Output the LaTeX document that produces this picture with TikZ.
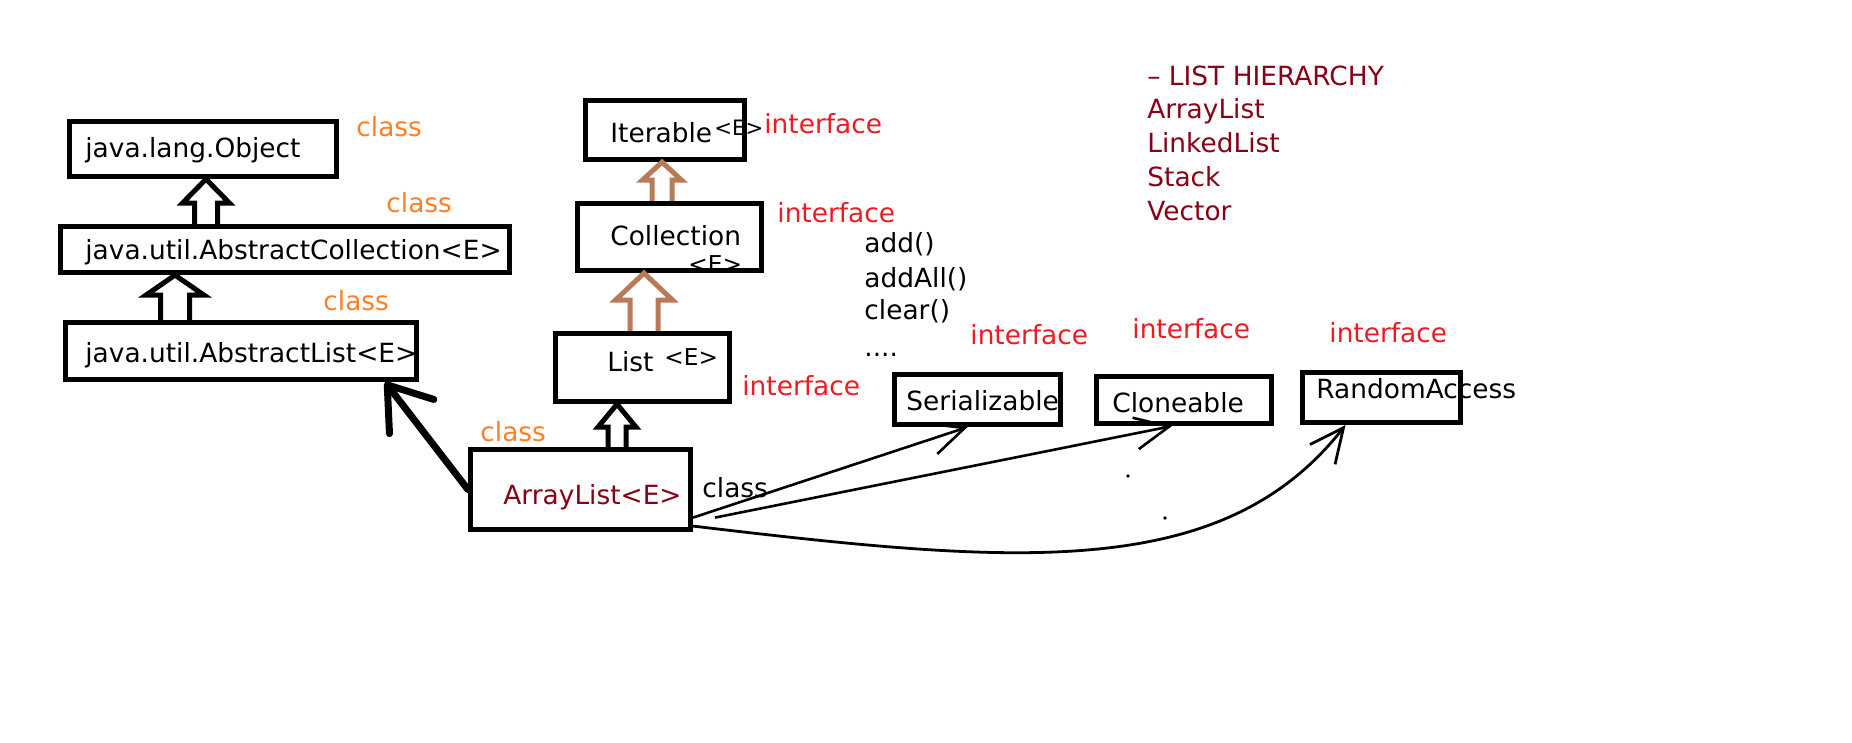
\documentclass[tikz,border=0pt]{standalone}
\usepackage{fontspec}
\setmainfont{DejaVu Sans}
\usepackage{xcolor}
\usepackage{tikz}
\usetikzlibrary{calc,positioning,arrows.meta}
\definecolor{PaintOrange}{RGB}{255,127,39}
\definecolor{PaintRed}{RGB}{237,28,36}
\definecolor{DeepMaroon}{RGB}{136,0,21}
\definecolor{ClayBrown}{RGB}{185,122,87}
\newcommand{\diagfont}{\fontsize{13.2}{16}\selectfont}
\newcommand{\genfont}{\fontsize{11.6}{14}\selectfont}
% hollow block arrow: colour, x, parent, child, head half, shaft half, head length
\newcommand{\inheritarrow}[7]{%
  \path (#2,0) coordinate (ax);
  \coordinate (tip) at (#3.south -| ax);
  \coordinate (base) at (#4.north -| ax);
  \draw[blockarrow, draw=#1] ($(base)+(-#6,0)$) -- ($(tip)+(-#6,#7)$) -- ($(tip)+(-#5,#7)$)
    -- (tip) -- ($(tip)+(#5,#7)$) -- ($(tip)+(#6,#7)$) -- ($(base)+(#6,0)$);
}

\begin{document}
\begin{tikzpicture}[x=0.5pt, y=-0.5pt,
    umlbox/.style={draw, line width=2.5pt, inner sep=0pt},
    txt/.style={anchor=base west, inner sep=0pt, font=\diagfont},
    gen/.style={anchor=base west, inner sep=0pt, font=\genfont},
    classtag/.style={txt, text=PaintOrange},
    ifacetag/.style={txt, text=PaintRed},
    blockarrow/.style={line width=2.5pt, line join=miter},
    realize/.style={line width=1.3pt, -{Straight Barb[length=17pt,width=16pt]}}]
    % Canvas
    \fill[white] (0,0) rectangle (1852,743);
    \useasboundingbox (0,0) rectangle (1852,743);

    % Box Texts (drawn first, borders go over them)
    \node[txt] (objtxt) at (85,158) {java.lang.Object};
    \node[txt] (acolltxt) at (85,260) {java.util.AbstractCollection<E>};
    \node[txt] (alisttxt) at (85,362) {java.util.AbstractList<E>};
    \node[txt] (itertxt) at (610,143) {Iterable};
    \node[gen, font=\fontsize{10.6}{12}\selectfont] (itergen) at (714,136) {<E>};
    \node[txt] (colltxt) at (610,246) {Collection};
    \node[gen] (collgen) at (688,272) {<E>};
    \node[txt] (listtxt) at (607,371) {List};
    \node[gen] (listgen) at (664,365) {<E>};
    \node[txt, text=DeepMaroon] (alsttxt) at (503,504) {ArrayList<E>};
    \node[txt] (sertxt) at (906,410) {Serializable};
    \node[txt] (clonetxt) at (1112,412) {Cloneable};
    \node[txt] (randtxt) at (1316,398) {RandomAccess};

    % Boxes
    \node[umlbox, minimum width=133.6pt, minimum height=27.6pt] (obj) at (203,149) {};
    \node[umlbox, minimum width=224.6pt, minimum height=23.1pt] (acoll) at (285,249.5) {};
    \node[umlbox, minimum width=175.6pt, minimum height=28.6pt] (alist) at (241,351) {};
    \node[umlbox, minimum width=79.6pt, minimum height=29.6pt] (iter) at (665,130) {};
    \node[umlbox, minimum width=92.1pt, minimum height=33.6pt] (coll) at (669.5,237) {};
    \node[umlbox, minimum width=87.1pt, minimum height=34.1pt] (list) at (642.5,367.5) {};
    \node[umlbox, minimum width=110.1pt, minimum height=40.1pt] (alst) at (580.5,489.5) {};
    \node[umlbox, minimum width=83.1pt, minimum height=25.1pt] (ser) at (977.5,399.5) {};
    \node[umlbox, minimum width=87.6pt, minimum height=23.6pt] (clone) at (1184,400) {};
    \node[umlbox, minimum width=79.1pt, minimum height=25.1pt] (rand) at (1381.5,397.5) {};

    % Inheritance Arrows
    \inheritarrow{black}{206}{obj}{acoll}{23.5}{11.5}{24}
    \inheritarrow{black}{175}{acoll}{alist}{29}{14.5}{20}
    \inheritarrow{ClayBrown}{662}{iter}{coll}{19.5}{10}{18}
    \inheritarrow{ClayBrown}{644}{coll}{list}{28.5}{14}{27}
    \inheritarrow{black}{617}{list}{alst}{19}{9}{23}
    \draw[line width=3.5pt, line cap=round, -{Straight Barb[length=20pt,width=28pt,round]}]
        (alst.west) -- ([xshift=-17pt]alist.south east);

    % Realised Interfaces
    \draw[realize] (alst.-14.5) -- ([xshift=-5pt]ser.south);
    \draw[realize] ([xshift=11pt]alst.-14.5) -- ([xshift=-6pt]clone.south);
    \draw[realize, line width=1.4pt] (alst.-18) .. controls +(320,38) and +(-124,158) .. ([xshift=-18pt]rand.south);
    \fill (1128,476) circle[radius=0.9pt];
    \fill (1165,518) circle[radius=0.9pt];

    % Type Tags
    \node[classtag] (objtag) at (356,137) {class};
    \node[classtag] (acolltag) at (386,213) {class};
    \node[classtag] (alisttag) at (323,310) {class};
    \node[classtag] (alsttag) at (480,441) {class};
    \node[txt] (alstkind) at (702,497) {class};
    \node[ifacetag] (itertag) at (764,134) {interface};
    \node[ifacetag] (colltag) at (777,223) {interface};
    \node[ifacetag] (listtag) at (742,395) {interface};
    \node[ifacetag] (sertag) at (970,344) {interface};
    \node[ifacetag] (clonetag) at (1132,338) {interface};
    \node[ifacetag] (randtag) at (1329,343) {interface};

    % Collection Methods
    \node[txt] (meth1) at (864,253) {add()};
    \node[txt] (meth2) at (864,287) {addAll()};
    \node[txt] (meth3) at (864,320) {clear()};
    \node[txt] (meth4) at (864,356) {....};

    % Legend
    \node[txt, text=DeepMaroon] (legtitle) at (1147,86) {– LIST HIERARCHY};
    \foreach \kind [count=\i] in {ArrayList,LinkedList,Stack,Vector}
        \node[txt, text=DeepMaroon] (leg\i) at (1147,{85+34*\i}) {\kind};
\end{tikzpicture}
\end{document}
